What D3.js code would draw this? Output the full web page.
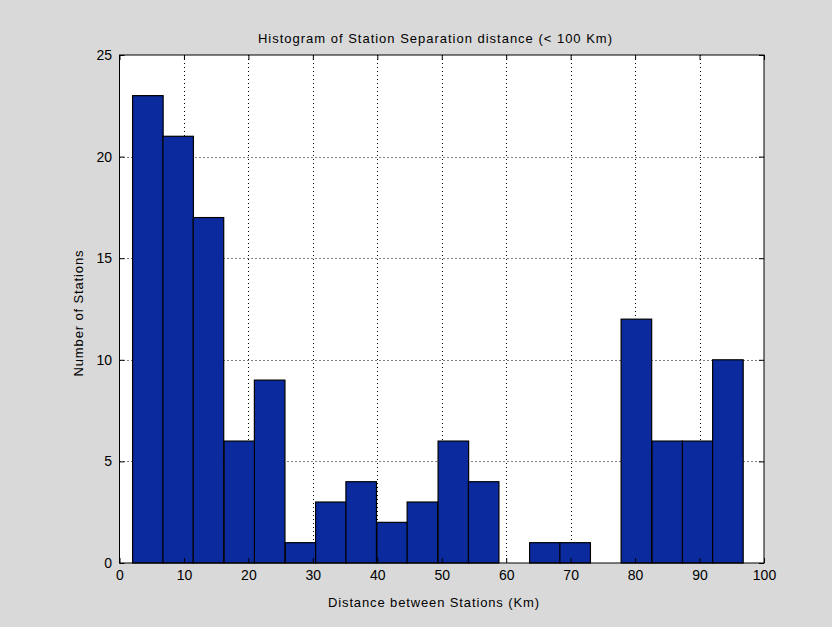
<!DOCTYPE html>
<html>
<head>
<meta charset="utf-8">
<script src="https://cdn.jsdelivr.net/npm/d3@7"></script>
<style>
  html, body { margin: 0; padding: 0; background: #d9d9d9; }
  svg { display: block; }
  text { font-family: "Liberation Sans", Arial, sans-serif; fill: #000; }
</style>
</head>
<body>
<script>
// Bin centres (Km) and station counts per bin
const binCenters = [4.4, 9.1, 13.8, 18.6, 23.3, 28.1, 32.8, 37.5, 42.3, 47.0,
                    51.8, 56.5, 61.3, 66.0, 70.7, 75.5, 80.2, 85.0, 89.7, 94.4];
const counts = [23, 21, 17, 6, 9, 1, 3, 4, 2, 3, 6, 4, 0, 1, 1, 0, 12, 6, 6, 10];
const binWidth = 4.74;
const xTicks = [0, 10, 20, 30, 40, 50, 60, 70, 80, 90, 100];
const yTicks = [0, 5, 10, 15, 20, 25];
const titleText = "Histogram of Station Separation distance (< 100 Km)";
const xLabel = "Distance between Stations (Km)";
const yLabel = "Number of Stations";

const W = 832, H = 627;
const pL = 119.5, pR = 764, pT = 55, pB = 563;

const svg = d3.select("body").append("svg").attr("width", W).attr("height", H);

const x = d3.scaleLinear().domain([0, 100]).range([pL, pR]);
const y = d3.scaleLinear().domain([0, 25]).range([pB, pT]);

// axes background
svg.append("rect").attr("x", pL).attr("y", pT)
  .attr("width", pR - pL).attr("height", pB - pT).attr("fill", "#fff");

// dotted grid
const grid = svg.append("g").attr("stroke", "#000").attr("stroke-width", 1)
  .attr("stroke-dasharray", "1,3");
grid.selectAll("line.v").data(xTicks.slice(1, -1)).join("line").attr("class", "v")
  .attr("x1", d => Math.round(x(d)) + 0.5).attr("x2", d => Math.round(x(d)) + 0.5)
  .attr("y1", pT).attr("y2", pB);
grid.selectAll("line.h").data(yTicks.slice(1, -1)).join("line").attr("class", "h")
  .attr("y1", d => Math.round(y(d)) + 0.5).attr("y2", d => Math.round(y(d)) + 0.5)
  .attr("x1", pL).attr("x2", pR);

// bars
const bins = counts.map((c, i) => ({c, m: binCenters[i]})).filter(d => d.c > 0);
svg.append("g").selectAll("rect").data(bins).join("rect")
  .attr("x", d => x(d.m - binWidth / 2))
  .attr("width", d => x(d.m + binWidth / 2) - x(d.m - binWidth / 2))
  .attr("y", d => y(d.c))
  .attr("height", d => y(0) - y(d.c))
  .attr("fill", "#0a2a9e")
  .attr("stroke", "#000")
  .attr("stroke-width", 1.2);

// axes with inward ticks on all four sides
const tickLen = 5;
const ax = svg.append("g");
ax.append("g").attr("transform", `translate(0,${pB})`)
  .call(d3.axisBottom(x).tickValues(xTicks).tickSizeInner(-tickLen).tickSizeOuter(0).tickPadding(7));
ax.append("g").attr("transform", `translate(0,${pT})`)
  .call(d3.axisTop(x).tickValues(xTicks).tickSizeInner(-tickLen).tickSizeOuter(0).tickFormat(""));
ax.append("g").attr("transform", `translate(${pL},0)`)
  .call(d3.axisLeft(y).tickValues(yTicks).tickSizeInner(-tickLen).tickSizeOuter(0).tickPadding(7.5));
ax.append("g").attr("transform", `translate(${pR},0)`)
  .call(d3.axisRight(y).tickValues(yTicks).tickSizeInner(-tickLen).tickSizeOuter(0).tickFormat(""));
ax.selectAll(".domain").remove();
ax.selectAll("line").attr("stroke", "#000");
ax.selectAll("text").style("font-size", "14px").style("font-family", "Liberation Sans, Arial, sans-serif");

svg.append("rect").attr("x", pL).attr("y", pT)
  .attr("width", pR - pL).attr("height", pB - pT)
  .attr("fill", "none").attr("stroke", "#000").attr("stroke-width", 1);

// labels
svg.append("text").attr("x", 435).attr("y", 43)
  .attr("text-anchor", "middle").style("font-size", "13px")
  .attr("textLength", 354).attr("lengthAdjust", "spacing").text(titleText);
svg.append("text").attr("x", 433.5).attr("y", 607)
  .attr("text-anchor", "middle").style("font-size", "13px")
  .attr("textLength", 211).attr("lengthAdjust", "spacing").text(xLabel);
svg.append("text").attr("transform", `translate(83,313.5) rotate(-90)`)
  .attr("text-anchor", "middle").style("font-size", "13px")
  .attr("textLength", 126).attr("lengthAdjust", "spacing").text(yLabel);
</script>
</body>
</html>
